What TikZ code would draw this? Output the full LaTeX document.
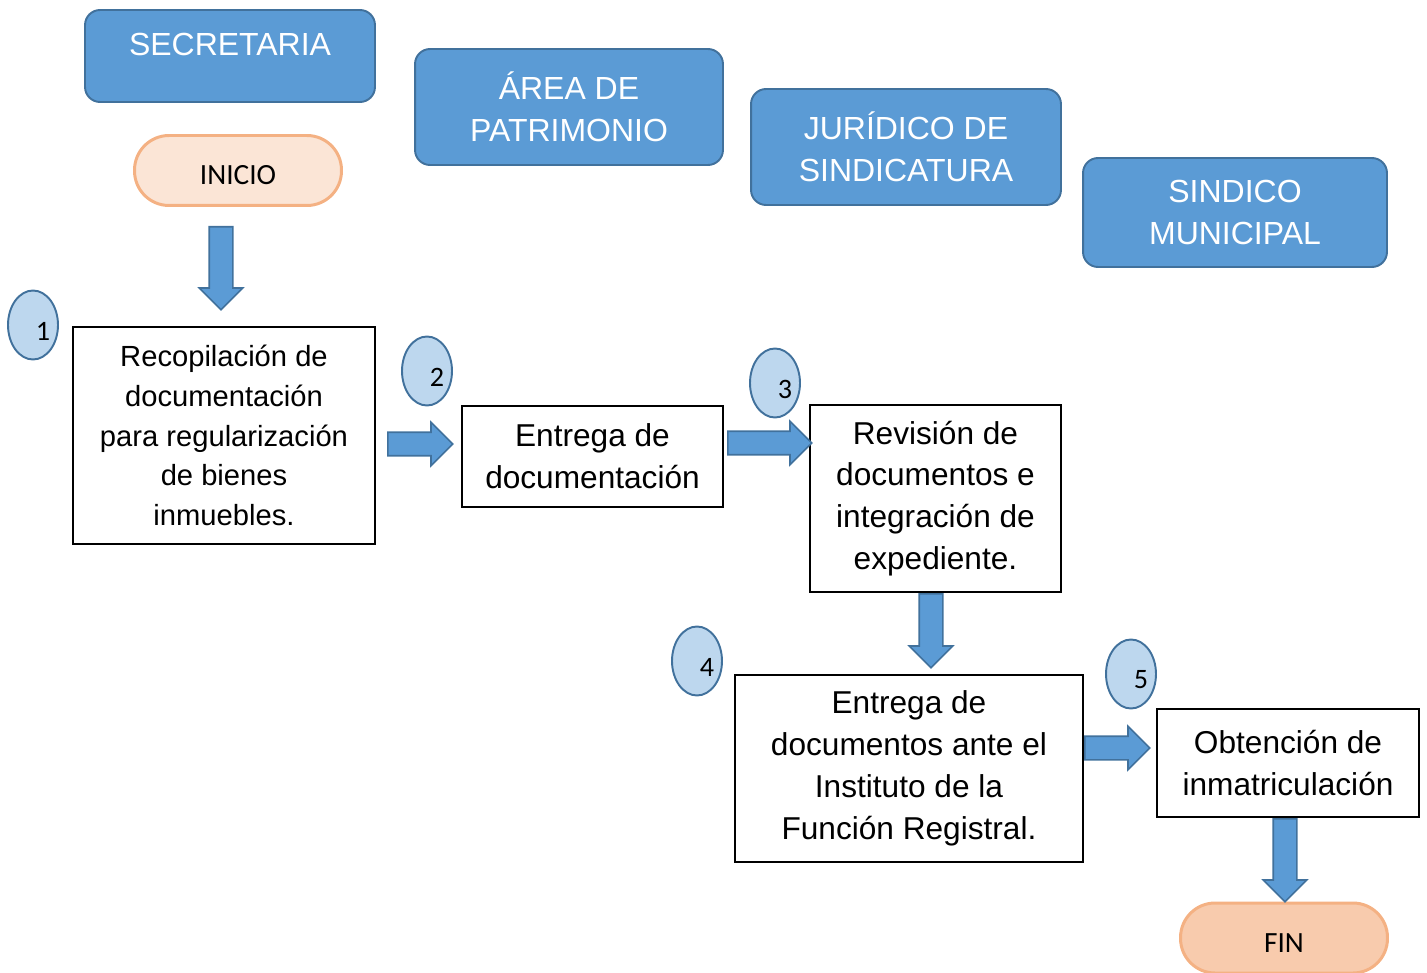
\documentclass[tikz,border=0pt]{standalone}
\usepackage{fontspec}
\setmainfont{Liberation Sans}
\newfontfamily\calibri{Carlito}
\usetikzlibrary{shapes.geometric, shapes.arrows, calc}
\definecolor{azul}{HTML}{5B9BD5}
\definecolor{azulborde}{HTML}{41719C}
\definecolor{azulclaro}{HTML}{BDD7EE}
\definecolor{durazno}{HTML}{FBE5D6}
\definecolor{duraznoosc}{HTML}{F8CBAD}
\definecolor{naranja}{HTML}{F4B183}
\tikzset{
    x=0.02cm, y=-0.02cm, % one unit is one pixel of the sketch
    area/.style={draw=azulborde, fill=azul, line width=1.1pt, rounded corners=0.3cm, text=white, align=center, font=\fontsize{18.2}{24}\selectfont}, % the column headers
    paso/.style={draw=black, line width=1.2pt, align=center, font=\fontsize{18}{23.8}\selectfont}, % each step of the process
    terminal/.style={draw=naranja, line width=1.7pt, rounded corners=0.69cm, font=\calibri\fontsize{16.7}{19}\selectfont, text height=0.56cm, text depth=0pt, minimum width=4.14cm, minimum height=1.4cm}, % start and end
    numero/.style={ellipse, draw=azulborde, fill=azulclaro, line width=1.1pt, minimum width=1cm, minimum height=1.38cm, inner sep=0pt}, % step counters
    cifra/.style={font=\calibri\fontsize{16}{19}\selectfont, xshift=0.2cm, yshift=-0.12cm},
    flecha/.style={single arrow, draw=azulborde, fill=azul, line width=0.9pt, inner sep=0.22cm, single arrow head extend=0.2cm, minimum height=#1, anchor=tail}, % block arrows
}

\begin{document}
\begin{tikzpicture}
    \useasboundingbox (0,0) rectangle (1427,973);
    % headers
    \node[area, minimum width=5.8cm, minimum height=1.84cm, text depth=0.46cm] (secr) at (230,56) {SECRETARIA};
    \node[area, minimum width=6.16cm, minimum height=2.32cm] (patr) at (569,107) {ÁREA DE\\PATRIMONIO};
    \node[area, minimum width=6.2cm, minimum height=2.32cm] (jur) at (906,147) {JURÍDICO DE\\SINDICATURA};
    \node[area, minimum width=6.08cm, minimum height=2.18cm] (sind) at (1235,212.5) {SINDICO\\MUNICIPAL};

    % process
    \node[terminal, fill=durazno] (inicio) at (238,170.5) {INICIO};
    \node[paso, minimum width=6.04cm, minimum height=4.34cm, font=\fontsize{16.6}{22.6}\selectfont] (b1) at (224,435.5) {Recopilación de\\documentación\\para regularización\\de bienes\\inmuebles.};
    \node[paso, minimum width=5.22cm, minimum height=2.02cm] (b2) at (592.5,456.5) {Entrega de\\documentación};
    \node[paso, minimum width=5.02cm, minimum height=3.74cm] (b3) at (935.5,498.5) {Revisión de\\documentos e\\integración de\\expediente.};
    \node[paso, minimum width=6.96cm, minimum height=3.74cm] (b4) at (909,768.5) {Entrega de\\documentos ante el\\Instituto de la\\Función Registral.};
    \node[paso, minimum width=5.24cm, minimum height=2.16cm] (b5) at (1288,763) {Obtención de\\inmatriculación};
    \node[terminal, fill=duraznoosc] (fin) at (1284,938) {FIN};

    % counters
    \node[numero, label={[cifra]center:1}] (c1) at (33,325) {};
    \node[numero, label={[cifra]center:2}] (c2) at (427,371) {};
    \node[numero, label={[cifra]center:3}] (c3) at (775,383) {};
    \node[numero, label={[cifra]center:4}] (c4) at (697,661) {};
    \node[numero, label={[cifra]center:5}] (c5) at (1131,674) {};

    % arrows
    \node[flecha=1.66cm, rotate=-90] (f0) at ($(inicio.south)+(-17,19)$) {};
    \node[flecha=1.3cm] (f1) at ($(b1.east)+(11,8.5)$) {};
    \node[flecha=1.68cm] (f2) at ($(b2.east)+(3,-13.5)$) {};
    \node[flecha=1.48cm, rotate=-90] (f3) at ($(b3.south)+(-4.5,0)$) {};
    \node[flecha=1.3cm] (f4) at ($(b4.east)+(0,-20.5)$) {};
    \node[flecha=1.66cm, rotate=-90] (f5) at ($(b5.south)+(-3,0)$) {};
\end{tikzpicture}
\end{document}
